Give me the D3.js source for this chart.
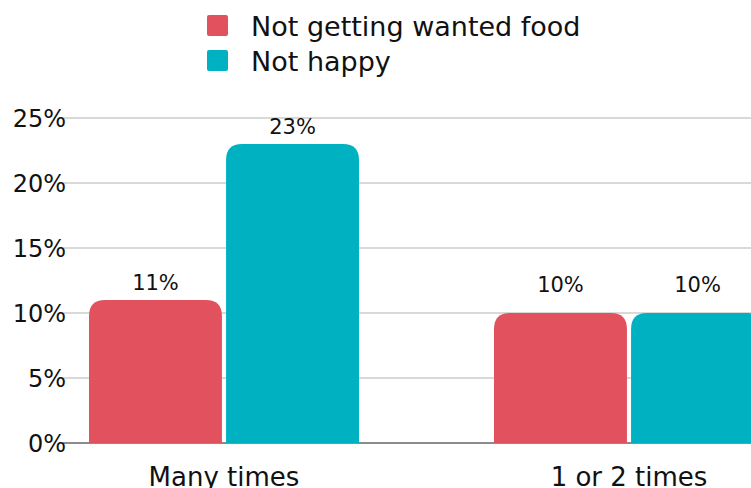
<!DOCTYPE html>
<html>
<head>
<meta charset="utf-8">
<script src="https://cdn.jsdelivr.net/npm/d3@7"></script>
<style>
  body { margin: 0; background: #fff; }
  svg { display: block; font-family: "DejaVu Sans", Verdana, sans-serif; }
</style>
</head>
<body>
<svg id="chart" width="751" height="488"></svg>
<script>
// data
const categories = ["Many times", "1 or 2 times"]
const seriesNames = ["Not getting wanted food", "Not happy"]
const foodValues = [11, 10]
const happyValues = [23, 10]
const yTicks = [0, 5, 10, 15, 20, 25]

const colors = ["#E1525E", "#00B1C1"]
const font = "'DejaVu Sans', Verdana, sans-serif"

const svg = d3.select("#chart")

// scales
const x = d3.scaleBand()
            .domain(categories)
            .range([89, 764])
            .paddingInner(1/3)
            .paddingOuter(0)

const xSub = d3.scaleBand()
               .domain(seriesNames)
               .range([0, x.bandwidth()])
               .paddingInner(0.03)

const y = d3.scaleLinear()
            .domain([0, 25])
            .range([443, 118])

// gridlines
svg.append("g")
   .selectAll("line")
   .data(yTicks.filter(d => d > 0))
   .enter()
   .append("line")
   .attr("x1", 63)
   .attr("x2", 751)
   .attr("y1", d => y(d))
   .attr("y2", d => y(d))
   .style("stroke", "#cccccc")
   .style("stroke-width", 1.5)

// baseline
svg.append("line")
   .attr("x1", 63)
   .attr("x2", 751)
   .attr("y1", y(0))
   .attr("y2", y(0))
   .style("stroke", "#666")
   .style("stroke-width", 1.5)

// y axis labels
const yAxis = d3.axisLeft(y)
                .tickValues(yTicks)
                .tickFormat(d => d + "%")
                .tickSize(0)
                .tickPadding(0)

const yAxisG = svg.append("g")
                  .attr("transform", "translate(66,0)")
                  .call(yAxis)
yAxisG.select(".domain").remove()
yAxisG.selectAll("text")
      .attr("dy", "0.36em")
      .style("font-size", "24px")
      .style("fill", "#111")
      .style("font-family", font)

// rounded top bar path
function roundTop(x0, y0, w, h, r) {
  r = Math.min(r, w / 2, h)
  return `M${x0},${y0 + h}V${y0 + r}Q${x0},${y0} ${x0 + r},${y0}H${x0 + w - r}Q${x0 + w},${y0} ${x0 + w},${y0 + r}V${y0 + h}Z`
}

const rows = categories.map((c, i) => ({
  cat: c,
  vals: [
    { name: seriesNames[0], v: foodValues[i] },
    { name: seriesNames[1], v: happyValues[i] }
  ]
}))

const groups = svg.append("g")
                  .selectAll("g")
                  .data(rows)
                  .enter()
                  .append("g")
                  .attr("transform", d => `translate(${x(d.cat)},0)`)

groups.selectAll("path")
      .data(d => d.vals)
      .enter()
      .append("path")
      .attr("d", d => roundTop(xSub(d.name), y(d.v), xSub.bandwidth(), y(0) - y(d.v), 16))
      .style("fill", (d, i) => colors[i])

// value labels sit above the bar, but never lower than the 11.6% line
groups.selectAll("text.val")
      .data(d => d.vals)
      .enter()
      .append("text")
      .attr("class", "val")
      .attr("x", d => xSub(d.name) + xSub.bandwidth() / 2)
      .attr("y", d => Math.min(y(d.v) - 10, y(11.6)))
      .attr("text-anchor", "middle")
      .style("font-size", "21px")
      .style("fill", "#111")
      .text(d => d.v + "%")

// x axis labels
const xAxis = d3.axisBottom(x).tickSize(0).tickPadding(0)
const xAxisG = svg.append("g")
                  .attr("transform", "translate(0,486)")
                  .call(xAxis)
xAxisG.select(".domain").remove()
xAxisG.selectAll("text")
      .attr("dy", 0)
      .style("font-size", "26px")
      .style("fill", "#111")
      .style("font-family", font)

// legend
const legend = svg.selectAll(".legend")
                  .data(seriesNames)
                  .enter()
                  .append("g")
                  .attr("class", "legend")
                  .attr("transform", (d, i) => `translate(207,${15 + i * 35})`)

legend.append("rect")
      .attr("width", 21)
      .attr("height", 21)
      .attr("rx", 2)
      .style("fill", (d, i) => colors[i])

legend.append("text")
      .attr("x", 44)
      .attr("y", 21)
      .style("font-size", "27px")
      .style("fill", "#111")
      .text(d => d)
</script>
</body>
</html>
